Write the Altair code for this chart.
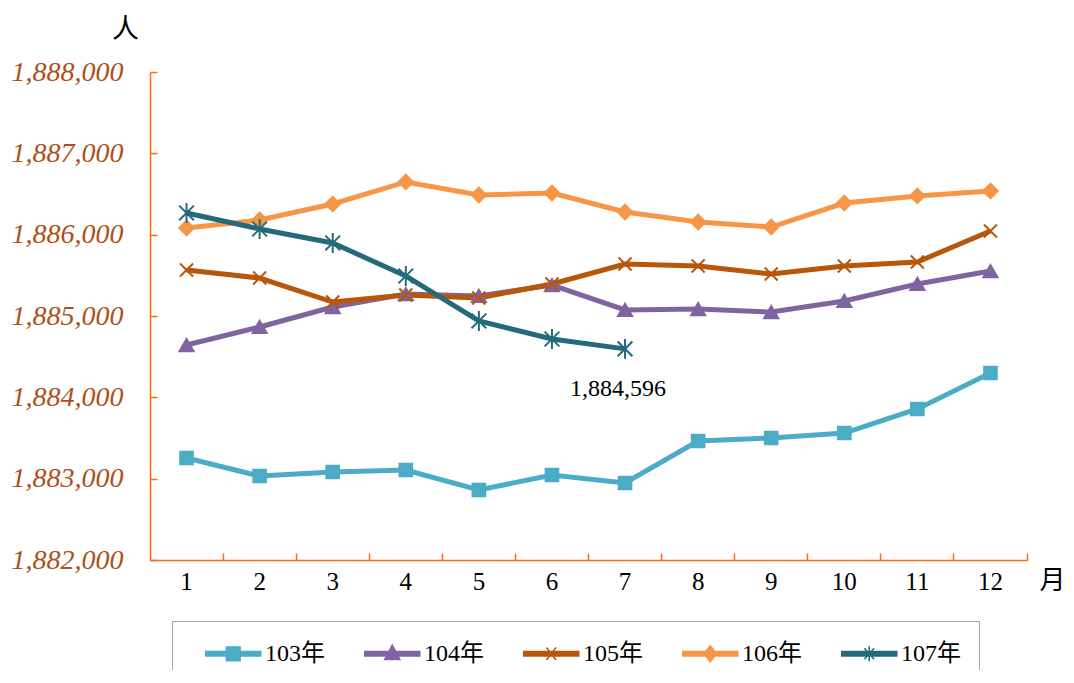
import altair as alt
import pandas as pd

months = [str(i) for i in range(1, 13)]
years = ["103年", "104年", "105年", "106年", "107年"]
v103 = [1883254, 1883033, 1883082, 1883107, 1882861, 1883045, 1882947, 1883463, 1883500, 1883561, 1883857, 1884299]
v104 = [1884643, 1884865, 1885110, 1885270, 1885246, 1885381, 1885074, 1885086, 1885049, 1885185, 1885394, 1885553]
v105 = [1885566, 1885467, 1885172, 1885258, 1885221, 1885394, 1885639, 1885615, 1885517, 1885615, 1885664, 1886045]
v106 = [1886082, 1886180, 1886377, 1886648, 1886488, 1886512, 1886279, 1886156, 1886094, 1886389, 1886476, 1886537]
v107 = [1886267, 1886070, 1885898, 1885492, 1884939, 1884717, 1884596]
y_ticks = [1882000, 1883000, 1884000, 1885000, 1886000, 1887000, 1888000]
colors = ["#4BACC6", "#8064A2", "#B8560A", "#F79646", "#246A7B"]

X_PATH = "M-1,-1L1,1M-1,1L1,-1"
STAR_PATH = "M-0.85,-0.85L0.85,0.85M-0.85,0.85L0.85,-0.85M0,-1.15L0,1.15"
shapes = ["square", "triangle-up", X_PATH, "diamond", STAR_PATH]
sizes = [160, 200, 170, 210, 300]

rows = []
for yr, vals in zip(years, [v103, v104, v105, v106, v107]):
    for m, v in zip(months, vals):
        rows.append({"year": yr, "month": m, "value": v})
df = pd.DataFrame(rows)

SERIF = "Liberation Serif, Noto Sans CJK TC"
CJK = "Noto Sans CJK TC"
ORANGE = "#FF6A10"
W, H = 877, 488


# legend glyphs: a line segment with the series marker at its middle
def P(*pts):
    return "".join("%s%.2f,%.2f" % (c, x, y) for c, x, y in pts)


X0, X1, CX = 0.09, 4.09, 2.09
LINE = P(("M", X0, -0.17), ("L", X1, -0.17), ("L", X1, 0.17), ("L", X0, 0.17)) + "Z"
leg_paths = [
    LINE + P(("M", CX - 0.5, -0.5), ("L", CX + 0.5, -0.5), ("L", CX + 0.5, 0.5), ("L", CX - 0.5, 0.5)) + "Z",
    LINE + P(("M", CX, -0.62), ("L", CX + 0.55, 0.42), ("L", CX - 0.55, 0.42)) + "Z",
    LINE + P(("M", CX - 0.35, -0.45), ("L", CX + 0.35, 0.45), ("M", CX - 0.35, 0.45), ("L", CX + 0.35, -0.45)),
    LINE + P(("M", CX, -0.58), ("L", CX + 0.46, 0), ("L", CX, 0.58), ("L", CX - 0.46, 0)) + "Z",
    LINE + P(("M", CX - 0.35, -0.4), ("L", CX + 0.35, 0.4), ("M", CX - 0.35, 0.4), ("L", CX + 0.35, -0.4),
             ("M", CX, -0.55), ("L", CX, 0.55)),
]

legend = alt.Legend(
    title=None, orient="none", legendX=22, legendY=549, direction="horizontal", columns=5,
    symbolSize=756.25, symbolStrokeWidth=1.5, symbolOpacity=1,
    labelFontSize=24, labelFont=SERIF, labelColor="black", labelOffset=46, labelLimit=200,
    columnPadding=24, padding=18, strokeColor="#A6A6A6", fillColor="white", cornerRadius=0,
)

xs = alt.Scale(type="band", paddingInner=0, paddingOuter=0)
ys = alt.Scale(domain=[1882000, 1888000], nice=False, zero=False)

base = alt.Chart(df)
X_PLAIN = alt.X("month:O", sort=months, scale=xs, axis=None)
Y_PLAIN = alt.Y("value:Q", scale=ys, axis=None)

# main axes (labels, titles, orange axis lines)
axes_layer = base.mark_point(opacity=0).encode(
    x=alt.X("month:O", sort=months, scale=xs, axis=alt.Axis(
        orient="bottom", title="月", titleAngle=0, titleX=902, titleY=20,
        titleFontSize=26, titleFont=CJK, titleFontWeight="normal", titleColor="black",
        titleAlign="center", titleBaseline="middle",
        labelAngle=0, labelFontSize=25, labelFont=SERIF, labelColor="black",
        labelPadding=9, ticks=False, domainColor=ORANGE, domainWidth=1.5, grid=False)),
    y=alt.Y("value:Q", scale=ys, axis=alt.Axis(
        orient="left", values=y_ticks, format=",d", title="人", titleAngle=0,
        titleX=-25, titleY=-43, titleFontSize=27, titleFont=CJK, titleFontWeight="normal",
        titleColor="black", titleAlign="center", titleBaseline="middle",
        labelFontSize=28, labelFont=SERIF, labelFontStyle="italic", labelColor="#AD4F1A",
        labelPadding=27, ticks=False, domainColor=ORANGE, domainWidth=1.5, grid=False)),
)

# inward-pointing ticks
ticks = base.mark_point(opacity=0).encode(
    x=alt.X("month:O", sort=months, scale=xs, axis=alt.Axis(
        orient="top", offset=-H, labels=False, domain=False, ticks=True, tickSize=7,
        tickColor=ORANGE, tickWidth=1.5, bandPosition=1, title=None, grid=False)),
    y=alt.Y("value:Q", scale=ys, axis=alt.Axis(
        orient="right", offset=-W, values=y_ticks, labels=False, domain=False, ticks=True,
        tickSize=7, tickColor=ORANGE, tickWidth=1.5, title=None, grid=False)),
)

series_layers = []
for yr, c, shp, sz in zip(years, colors, shapes, sizes):
    sub = base.transform_filter("datum.year === '%s'" % yr)
    series_layers.append(sub.mark_line(strokeWidth=5, color=c).encode(x=X_PLAIN, y=Y_PLAIN))
for yr, c, shp, sz in zip(years, colors, shapes, sizes):
    sub = base.transform_filter("datum.year === '%s'" % yr)
    series_layers.append(
        sub.mark_point(filled=True, shape=shp, size=sz, color=c, fill=c, stroke=c,
                       strokeWidth=2, opacity=1).encode(x=X_PLAIN, y=Y_PLAIN)
    )

# legend-carrying layer: its own marks sit outside the clipped plot area
legend_layer = base.mark_point(filled=True, opacity=1, strokeWidth=1.5, clip=True).encode(
    x=alt.value(-700), y=alt.value(-700),
    shape=alt.Shape("year:N", sort=years, scale=alt.Scale(domain=years, range=leg_paths), legend=legend),
    fill=alt.Fill("year:N", sort=years, scale=alt.Scale(domain=years, range=colors), legend=legend),
    stroke=alt.Stroke("year:N", sort=years, scale=alt.Scale(domain=years, range=colors), legend=legend),
)

label = base.transform_filter(
    "datum.year === '107年' && datum.month === '7'"
).mark_text(dy=40, dx=-7, fontSize=24, font=SERIF, color="black", baseline="middle").encode(
    x=X_PLAIN, y=Y_PLAIN, text=alt.Text("value:Q", format=","),
)

chart = alt.layer(axes_layer, ticks, *series_layers, legend_layer, label).resolve_axis(
    x="independent", y="independent"
).properties(
    width=W, height=H, autosize="none",
    padding={"left": 142, "top": 64, "right": 39, "bottom": 110},
    background="white",
).configure_view(stroke=None).configure_legend(
    labelFont=SERIF, labelFontSize=24, labelColor="black"
)

chart.save("out.html", embed_options={"renderer": "svg", "actions": False})
